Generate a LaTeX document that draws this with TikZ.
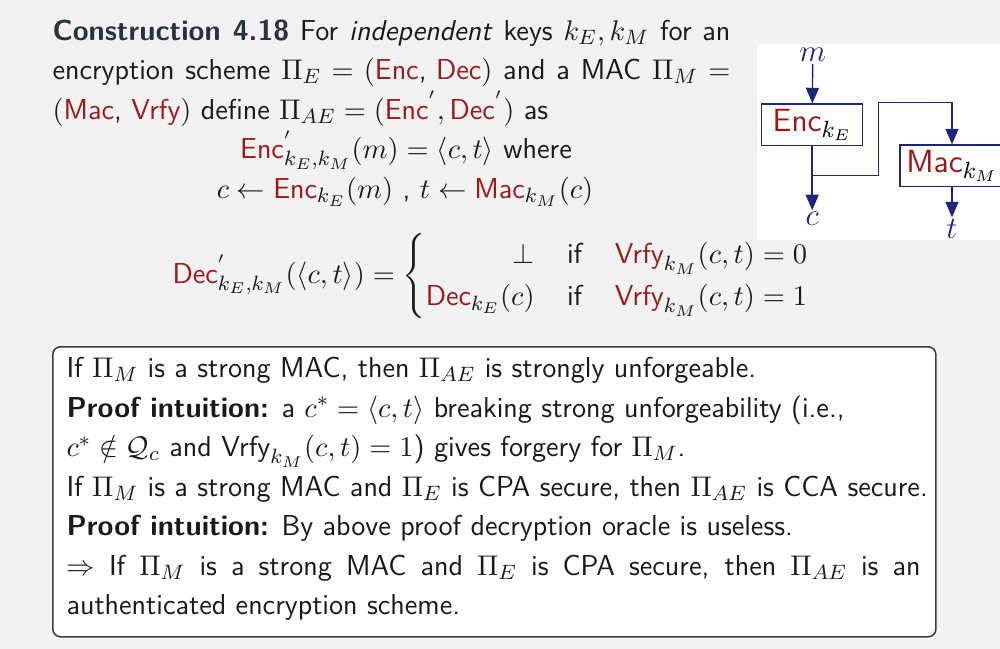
\documentclass[tikz,border=0pt]{standalone}
\usepackage{amsmath}
\usetikzlibrary{arrows.meta}
\definecolor{bg}{RGB}{242,242,242}
\definecolor{redt}{RGB}{155,25,25}
\definecolor{navyd}{RGB}{30,35,125}
\definecolor{slate}{RGB}{38,52,58}
\definecolor{txt}{RGB}{25,25,25}
\definecolor{frm}{RGB}{60,60,60}
\newcommand{\rs}[1]{{\textcolor{redt}{\textsf{#1}}}}
\begin{document}
\begin{tikzpicture}[x=0.385pt,y=-0.385pt,
  font=\fontsize{11.1}{13.2}\selectfont\sffamily,
  line/.style={anchor=base west,inner sep=0pt,text=txt},
  blk/.style={draw=navyd,line width=0.5pt,fill=white,inner sep=0pt,minimum height=16.05pt,
    font=\fontsize{12.4}{14}\selectfont\sffamily},
  var/.style={inner sep=0.6pt,text=navyd,font=\fontsize{12.4}{14}\selectfont},
  arr/.style={draw=navyd,line width=0.55pt,-{Triangle[width=5pt,length=6pt]}},
  ln/.style={draw=navyd,line width=0.55pt},
  frame/.style={draw=frm,line width=0.6pt,fill=white,rounded corners=3pt,anchor=north west,
    minimum width=340pt,minimum height=111.65pt,inner sep=0pt}]
\fill[bg] (0,0) rectangle (1000,649);
\useasboundingbox (0,0) rectangle (1000,649);
% top text
\node[line] (l1) at (52,40) {\makebox[261pt][s]{{\bfseries\color{slate}Construction 4.18} For \textit{independent} keys $k_E,k_M$ for an}};
\node[line] (l2) at (52,79.5) {\makebox[261pt][s]{encryption scheme $\Pi_E=(\text{\rs{Enc}, \rs{Dec}})$ and a MAC $\Pi_M=$}};
\node[line] (l3) at (52,119) {$(\text{\rs{Mac}, \rs{Vrfy}})$ define $\Pi_{AE}=(\rs{Enc}^{'},\rs{Dec}^{'})$ as};
\node[line,anchor=base] (l4) at (406,158.5) {$\rs{Enc}^{'}_{k_E,k_M}(m)=\langle c,t\rangle$ where};
\node[line,anchor=base] (l5) at (405,198) {$c\leftarrow\rs{Enc}_{k_E}(m)$ , $t\leftarrow\rs{Mac}_{k_M}(c)$};
% decryption
\node[line,anchor=west] (dec) at (172,276) {$\displaystyle \rs{Dec}^{'}_{k_E,k_M}(\langle c,t\rangle)=
  \renewcommand\arraystretch{1.23}\left\{\begin{array}{@{}r@{\hspace{12.5pt}}l@{\hspace{12.5pt}}l@{}}
  \perp & \text{if} & \rs{Vrfy}_{k_M}(c,t)=0\\
  \rs{Dec}_{k_E}(c) & \text{if} & \rs{Vrfy}_{k_M}(c,t)=1
  \end{array}\right.$};
% diagram
\fill[white] (757,44) rectangle (1000,240);
\node[var] (m) at (812.7,55) {$m$};
\node[blk,minimum width=38.9pt] (enc) at (812.2,124.85) {\rs{Enc}$_{k_E}$\hspace{3pt}};
\node[blk,minimum width=40pt] (mac) at (952,165.85) {\rs{Mac}$_{k_M}$};
\node[var] (c) at (812.2,219) {$c$};
\node[var] (t) at (952,229) {$t$};
\coordinate (br) at (812.2,175.7);
\coordinate (j1) at (878.3,102.7);
\draw[arr] (m) -- (enc);
\draw[ln] (enc) -- (br);
\draw[arr] (br) -- (c);
\draw[arr] (br) -| (j1) -| (mac);
\draw[arr] (mac) -- (t);
% box
\node[frame] (box) at (52,346) {};
\node[line] (b1) at (66,377.5) {If $\Pi_M$ is a strong MAC, then $\Pi_{AE}$ is strongly unforgeable.};
\node[line] (b2) at (66,417) {\textbf{Proof intuition:} a $c^*=\langle c,t\rangle$ breaking strong unforgeability (i.e.,};
\node[line] (b3) at (66,456.5) {$c^*\notin\mathcal{Q}_c$ and $\textsf{Vrfy}_{k_M}(c,t)=1$) gives forgery for $\Pi_M$.};
\node[line] (b4) at (66,496) {If $\Pi_M$ is a strong MAC and $\Pi_E$ is CPA secure, then $\Pi_{AE}$ is CCA secure.};
\node[line] (b5) at (66,535.5) {\textbf{Proof intuition:} By above proof decryption oracle is useless.};
\node[line] (b6) at (66,575) {\makebox[328.8pt][s]{$\Rightarrow$ If $\Pi_M$ is a strong MAC and $\Pi_E$ is CPA secure, then $\Pi_{AE}$ is an}};
\node[line] (b7) at (66,614.5) {authenticated encryption scheme.};
\end{tikzpicture}
\end{document}
